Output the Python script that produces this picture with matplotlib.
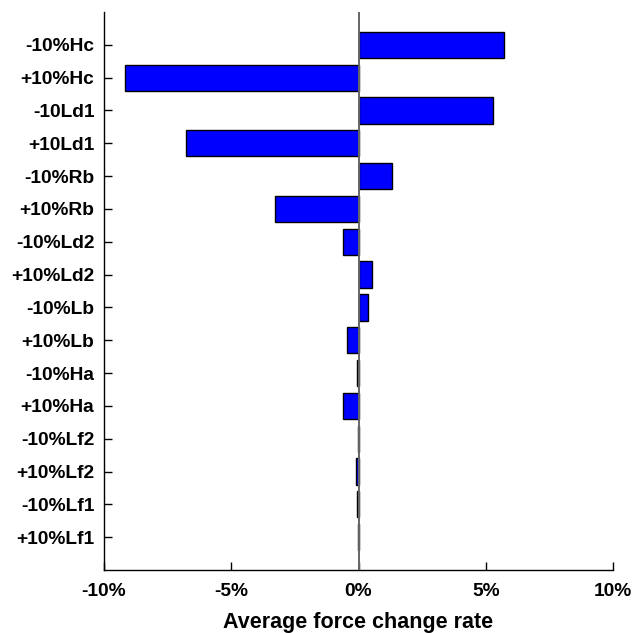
import matplotlib
matplotlib.use("Agg")
import matplotlib.pyplot as plt
from matplotlib.ticker import FuncFormatter

# parameter variations (top to bottom) and average force change rate in %
labels = ["-10%Hc", "+10%Hc", "-10Ld1", "+10Ld1", "-10%Rb", "+10%Rb",
          "-10%Ld2", "+10%Ld2", "-10%Lb", "+10%Lb", "-10%Ha", "+10%Ha",
          "-10%Lf2", "+10%Lf2", "-10%Lf1", "+10%Lf1"]
rates = [5.72, -9.19, 5.29, -6.79, 1.31, -3.29,
         -0.62, 0.51, 0.37, -0.46, -0.08, -0.62,
         -0.02, -0.10, -0.07, -0.03]
xticks = [-10, -5, 0, 5, 10]

plt.rcParams["font.family"] = ["Liberation Sans", "DejaVu Sans"]
plt.rcParams["font.weight"] = "bold"

fig = plt.figure(figsize=(6.44, 6.33), dpi=100)
ax = fig.add_axes([0.1615, 0.0995, 0.7905, 0.8815])

pos = list(range(len(labels)))
ax.barh(pos, rates, height=0.8, color="#0000ff", edgecolor="black",
        linewidth=1.0, zorder=3)
ax.axvline(0, color="#666666", linewidth=1.4, zorder=4)

ax.set_ylim(16, -1)
ax.set_xlim(-10, 10)
ax.set_yticks(pos)
ax.set_yticklabels(labels)
ax.set_xticks(xticks)
ax.xaxis.set_major_formatter(FuncFormatter(lambda v, _: f"{v:.0f}%"))

for s in ("top", "right"):
    ax.spines[s].set_visible(False)
for s in ("left", "bottom"):
    ax.spines[s].set_linewidth(1.0)

ax.tick_params(axis="both", direction="in", length=6, width=1.0,
               labelsize=13.8)
ax.tick_params(axis="x", pad=9)
ax.tick_params(axis="y", pad=7)
for lab in ax.get_xticklabels() + ax.get_yticklabels():
    lab.set_fontweight("bold")

ax.set_xlabel("Average force change rate", fontsize=15.5,
              fontweight="bold", labelpad=9)

fig.savefig("out.png", dpi=100)
